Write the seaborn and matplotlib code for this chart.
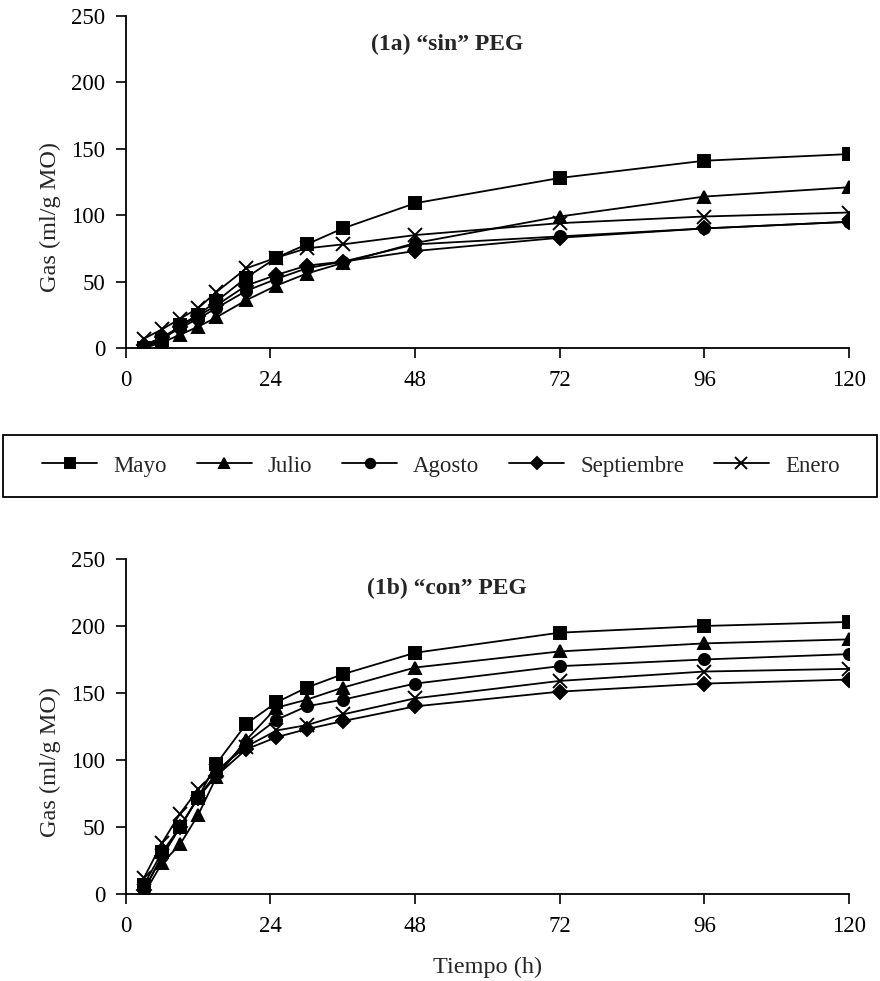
import numpy as np
import pandas as pd
import matplotlib
matplotlib.use("Agg")
import matplotlib.pyplot as plt
from matplotlib.patches import Rectangle
import seaborn as sns

sns.set_theme(style="white")
plt.rcParams['font.family'] = ['Liberation Serif', 'DejaVu Serif']

hours = [3, 6, 9, 12, 15, 20, 25, 30, 36, 48, 72, 96, 120]
months = ["Mayo", "Julio", "Agosto", "Septiembre", "Enero"]

# (1a) sin PEG
sin_mayo = [0, 6, 17, 25, 35, 53, 68, 78, 90, 109, 128, 141, 146]
sin_julio = [0, 4, 10, 16, 23, 36, 47, 56, 64, 79, 99, 114, 121]
sin_agosto = [1, 7, 15, 22, 30, 43, 52, 60, 65, 78, 84, 90, 95]
sin_septiembre = [2, 8, 16, 24, 32, 47, 55, 62, 65, 73, 83, 90, 95]
sin_enero = [7, 14, 22, 30, 42, 60, 68, 75, 78, 85, 94, 99, 102]

# (1b) con PEG
con_mayo = [7, 31, 50, 72, 97, 127, 143, 154, 164, 180, 195, 200, 203]
con_julio = [0, 23, 37, 59, 87, 115, 139, 145, 154, 169, 181, 187, 190]
con_agosto = [3, 28, 50, 72, 90, 113, 130, 140, 145, 157, 170, 175, 179]
con_septiembre = [3, 28, 50, 72, 88, 108, 117, 123, 129, 140, 151, 157, 160]
con_enero = [12, 38, 60, 78, 92, 110, 122, 126, 134, 146, 159, 166, 168]

sin_vals = [sin_mayo, sin_julio, sin_agosto, sin_septiembre, sin_enero]
con_vals = [con_mayo, con_julio, con_agosto, con_septiembre, con_enero]

marker_list = ["s", "^", "o", "D", "x"]
marker_sizes = [8, 9, 8, 7, 10]

fig = plt.figure(figsize=(8.8, 9.81), dpi=100)
ax1 = fig.add_axes([0.143, 0.6453, 0.8216, 0.3384])
ax2 = fig.add_axes([0.143, 0.0887, 0.8216, 0.3415])

TICK_FS = 16.5
LAB_FS = 17.5
TITLE_FS = 17
LEG_FS = 16.5

for ax, vals, title in [(ax1, sin_vals, "(1a) \u201csin\u201d PEG"), (ax2, con_vals, "(1b) \u201ccon\u201d PEG")]:
    for m, v, mk, ms in zip(months, vals, marker_list, marker_sizes):
        df = pd.DataFrame({"Tiempo": hours, "Gas": v})
        sns.lineplot(data=df, x="Tiempo", y="Gas", color="black", ax=ax,
                     linewidth=1.3, marker=mk, markersize=ms,
                     markeredgecolor="black", markerfacecolor="black",
                     markeredgewidth=1.4, label=m)
    ax.set_xlim(0, 120)
    ax.set_ylim(0, 250)
    ax.set_xticks([0, 24, 48, 72, 96, 120])
    ax.set_yticks([0, 50, 100, 150, 200, 250])
    for s in ["top", "right"]:
        ax.spines[s].set_visible(False)
    for s in ["left", "bottom"]:
        ax.spines[s].set_color("black")
        ax.spines[s].set_linewidth(1.3)
    ax.tick_params(axis="both", direction="out", length=7, width=1.2,
                   color="black", labelsize=TICK_FS, labelcolor="black",
                   left=True, bottom=True)
    ax.tick_params(axis="y", pad=8)
    ax.tick_params(axis="x", pad=9)
    ax.set_ylabel("Gas (ml/g MO)", fontsize=LAB_FS)
    ax.yaxis.set_label_coords(-0.089, 0.395)
    ax.set_xlabel("")
    ax.text(0.444, 0.913, title, transform=ax.transAxes, ha="center", va="center",
            fontsize=TITLE_FS, fontweight="bold")
    ax.grid(False)

handles, labels = ax1.get_legend_handles_labels()
ax1.get_legend().remove()
ax2.get_legend().remove()

ax2.set_xlabel("Tiempo (h)", fontsize=LAB_FS)
ax2.xaxis.set_label_coords(0.5, -0.188)

# legend frame box
fig.patches.append(Rectangle((3 / 880, 1 - 497 / 981), 874 / 880, 62 / 981,
                             transform=fig.transFigure, fill=False,
                             edgecolor="black", linewidth=1.3))

fig.legend(handles, labels, loc="center",
           bbox_to_anchor=(441 / 880, 1 - 466 / 981),
           ncol=5, frameon=False, fontsize=LEG_FS, handlelength=2.4,
           handletextpad=0.7, columnspacing=1.3, markerscale=0.85)

fig.savefig("out.png", dpi=100)
